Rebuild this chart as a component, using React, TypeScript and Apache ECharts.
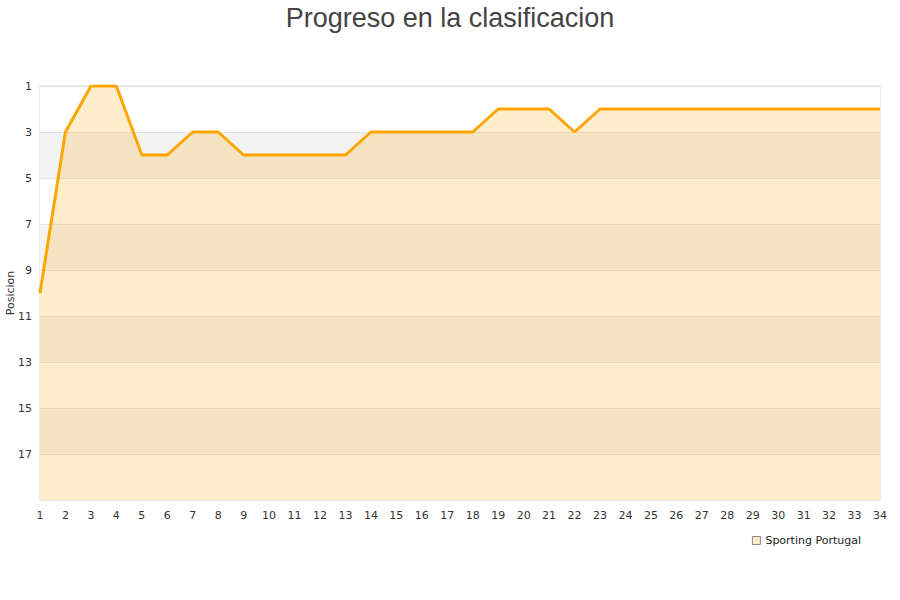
import React, { useEffect, useRef } from "react";
import * as echarts from "echarts";

const rounds = Array.from({ length: 34 }, (_, i) => String(i + 1));
const positions = [10, 3, 1, 1, 4, 4, 3, 3, 4, 4, 4, 4, 4, 3, 3, 3, 3, 3, 2, 2, 2, 3, 2, 2, 2, 2, 2, 2, 2, 2, 2, 2, 2, 2];
const teamName = "Sporting Portugal";
const titleText = "Progreso en la clasificacion";
const yName = "Posicion";
const minPos = 1;
const maxPos = 19;

export default function App() {
  const ref = useRef<HTMLDivElement>(null);
  useEffect(() => {
    const chart = echarts.init(ref.current!, null, { renderer: "svg" });
    chart.setOption({
      animation: false,
      backgroundColor: "#ffffff",
      title: {
        text: titleText,
        left: "center",
        top: -1,
        textStyle: { fontFamily: "Liberation Sans", fontSize: 27, fontWeight: "normal", color: "#444444" },
      },
      grid: {
        left: 40,
        right: 20,
        top: 86,
        bottom: 100,
        show: true,
        borderColor: "#dddddd",
        borderWidth: 1,
        containLabel: false,
        outerBoundsMode: "none",
      },
      legend: {
        data: [teamName],
        right: 34,
        top: 530,
        icon: "rect",
        itemWidth: 8,
        itemHeight: 8,
        itemGap: 8,
        itemStyle: { color: "#fde9c6", borderColor: "#888888", borderWidth: 1 },
        textStyle: { fontFamily: "DejaVu Sans", fontSize: 11, color: "#222222" },
      },
      xAxis: {
        type: "category",
        data: rounds,
        boundaryGap: false,
        axisLine: { show: false },
        axisTick: { show: false },
        axisLabel: { fontFamily: "DejaVu Sans", fontSize: 11, color: "#333333", margin: 10, interval: 0 },
        splitLine: { show: false },
      },
      yAxis: {
        type: "value",
        inverse: true,
        min: 0,
        max: maxPos - minPos,
        interval: 2,
        name: yName,
        nameLocation: "middle",
        nameGap: 24,
        nameMoveOverlap: false,
        nameTextStyle: { fontFamily: "DejaVu Sans", fontSize: 11, color: "#333333" },
        axisLine: { show: false },
        axisTick: { show: false },
        axisLabel: {
          fontFamily: "DejaVu Sans",
          fontSize: 11,
          color: "#333333",
          margin: 8,
          formatter: (v: number) => (v + minPos >= maxPos ? "" : String(v + minPos)),
        },
        splitLine: { show: true, lineStyle: { color: "#e3e3e3", width: 1 } },
        splitArea: { show: true, areaStyle: { color: ["#ffffff", "#f3f3f3"] } },
      },
      series: [
        {
          name: teamName,
          type: "line",
          data: positions.map((p) => p - minPos),
          symbol: "none",
          lineStyle: { color: "#ffa500", width: 3 },
          itemStyle: { color: "#ffa500" },
          areaStyle: { color: "#ffa500", opacity: 0.2, origin: "end" },
        },
      ],
    });
    return () => chart.dispose();
  }, []);
  return <div ref={ref} style={{ width: 900, height: 600, position: "absolute", left: 0, top: 0 }} />;
}
